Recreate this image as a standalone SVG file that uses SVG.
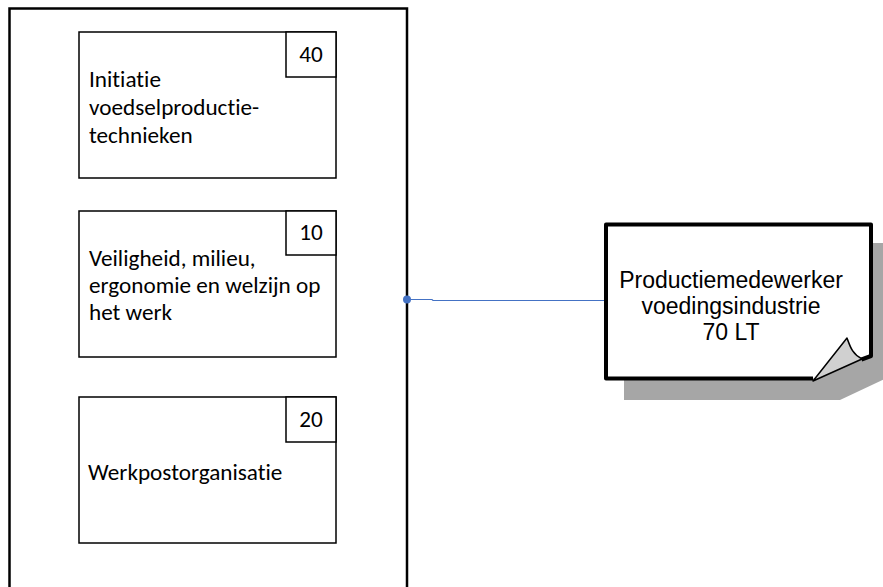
<svg xmlns="http://www.w3.org/2000/svg" width="883" height="587" viewBox="0 0 883 587">
<style>
.box{fill:#fff;stroke:#000;stroke-width:1.5}
.num{fill:#fff;stroke:#000;stroke-width:1.5}
.t{font-family:"Carlito","Liberation Sans",Arial,sans-serif;font-size:23.2px;fill:#000;font-variant-ligatures:none}
.n{font-family:"Carlito","Liberation Sans",Arial,sans-serif;font-size:23.2px;fill:#000;text-anchor:middle}
.c{font-family:"Liberation Sans",Arial,sans-serif;font-size:23px;fill:#000;text-anchor:middle}
</style>
<rect width="883" height="587" fill="#fff"/>
<g id="container">
<rect x="9.5" y="8.5" width="397.5" height="600" fill="#fff" stroke="#000" stroke-width="2.5"/>
</g>
<g id="node-initiatie">
<rect class="box" x="79" y="32" width="257" height="146"/>
<rect class="num" x="286" y="32" width="50" height="45"/>
<text class="n" x="311" y="62">40</text>
<text class="t" x="89" y="87">Initiatie</text>
<text class="t" x="89" y="115">voedselproductie-</text>
<text class="t" x="89" y="143">technieken</text>
</g>
<g id="node-veiligheid">
<rect class="box" x="79" y="211" width="257" height="146"/>
<rect class="num" x="286" y="211" width="50" height="44"/>
<text class="n" x="311" y="240">10</text>
<text class="t" x="89" y="266">Veiligheid, milieu,</text>
<text class="t" x="89" y="293">ergonomie en welzijn op</text>
<text class="t" x="89" y="320">het werk</text>
</g>
<g id="node-werkpost">
<rect class="box" x="79" y="397" width="257" height="146"/>
<rect class="num" x="286" y="397" width="50" height="45"/>
<text class="n" x="311" y="427">20</text>
<text class="t" x="88" y="480">Werkpostorganisatie</text>
</g>
<g id="connectors">
<polyline points="407,299.5 432,299.5 433,300.5 606,300.5" fill="none" stroke="#4472C4" stroke-width="1.2"/>
<circle cx="407" cy="299.5" r="4" fill="#4472C4"/>
</g>
<g id="node-productiemedewerker">
<polygon points="624,243 895,243 895,374 840,400 624,400" fill="#A6A6A6"/>
<polygon points="606,224.5 871,224.5 871,356 861.5,359.5 813,378.5 606,378.5" fill="#fff"/>
<polyline points="861.5,359.5 871,356 871,224.5 606,224.5 606,378.5 813,378.5" fill="none" stroke="#000" stroke-width="4" stroke-linejoin="round"/>
<path d="M813,381 L847,338 C850,346 852,354 862,359 Z" fill="#D0D0D0" stroke="#000" stroke-width="1.5" stroke-linejoin="round"/>
<text class="c" x="731" y="288">Productiemedewerker</text>
<text class="c" x="731" y="314">voedingsindustrie</text>
<text class="c" x="731" y="340">70 LT</text>
</g>
</svg>
